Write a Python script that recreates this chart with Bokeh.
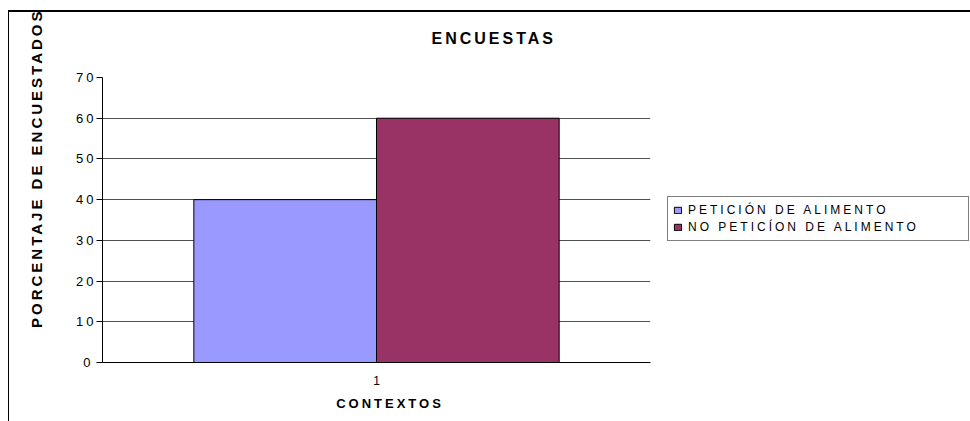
from bokeh.plotting import figure
from bokeh.models import (FactorRange, Range1d, Legend, FixedTicker, Title,
                          InlineStyleSheet, ColumnDataSource)
from bokeh.layouts import row
from bokeh.transform import dodge
from bokeh.embed import file_html
from bokeh.resources import INLINE

# ---- data ----
categories = ["1"]
series_names = ["PETICIÓN DE ALIMENTO", "NO PETICÍON DE ALIMENTO"]
peticion = [40]
no_peticion = [60]
series_colors = ["#9999FF", "#993366"]
y_ticks = [0, 10, 20, 30, 40, 50, 60, 70]
title_text = "ENCUESTAS"
x_title = "CONTEXTOS"
y_title = "PORCENTAJE DE ENCUESTADOS"

FONT = "Liberation Sans"

src = ColumnDataSource(dict(cat=categories, a=peticion, b=no_peticion))

# ---------------- main chart ----------------
p = figure(
    width=667, height=421,
    x_range=FactorRange(*categories, range_padding=0),
    y_range=Range1d(0, 70),
    output_backend="svg", toolbar_location=None,
    min_border_left=102, min_border_right=17,
    min_border_top=77, min_border_bottom=59,
)
p.outline_line_color = None
p.background_fill_color = "white"
p.border_fill_color = "white"

p.vbar(x=dodge("cat", -1/6, range=p.x_range), top="a", width=1/3, source=src,
       fill_color=series_colors[0], line_color="black", line_width=1)
p.vbar(x=dodge("cat", 1/6, range=p.x_range), top="b", width=1/3, source=src,
       fill_color=series_colors[1], line_color="black", line_width=1)

p.title = Title(text=title_text, align="left", offset=329, vertical_align="top",
                standoff=58, text_font=FONT, text_font_style="bold",
                text_font_size="16px", text_color="black")

p.add_layout(Title(text=y_title, align="right", offset=6, vertical_align="top",
                   standoff=54, text_font=FONT, text_font_style="bold",
                   text_font_size="15px", text_color="black"), "left")

p.yaxis.ticker = FixedTicker(ticks=y_ticks)
p.yaxis.major_tick_out = 6
p.yaxis.major_tick_in = 0
p.yaxis.minor_tick_line_color = None
p.yaxis.axis_line_color = "black"
p.yaxis.major_tick_line_color = "black"
p.yaxis.major_label_text_font = FONT
p.yaxis.major_label_text_font_size = "13px"
p.yaxis.major_label_text_color = "black"
p.yaxis.major_label_standoff = 6
p.ygrid.grid_line_color = "#505050"
p.ygrid.grid_line_width = 1

p.xaxis.axis_line_color = "black"
p.xaxis.major_tick_line_color = None
p.xaxis.major_tick_out = 0
p.xaxis.major_label_text_font = FONT
p.xaxis.major_label_text_font_size = "12px"
p.xaxis.major_label_text_color = "black"
p.xaxis.major_label_standoff = 13
p.xaxis.axis_label = x_title
p.xaxis.axis_label_text_font = FONT
p.xaxis.axis_label_text_font_style = "bold"
p.xaxis.axis_label_text_font_size = "13px"
p.xaxis.axis_label_text_color = "black"
p.xaxis.axis_label_standoff = 8
p.xgrid.grid_line_color = None

# ---------------- legend panel ----------------
lf = figure(
    width=303, height=421,
    x_range=FactorRange(*categories, range_padding=0),
    y_range=Range1d(-2, -1),
    x_axis_type=None, y_axis_type=None,
    output_backend="svg", toolbar_location=None,
    min_border=0,
)
lf.outline_line_color = None
lf.grid.grid_line_color = None
lf.background_fill_color = None
lf.border_fill_color = None
# legend-only renderers, kept outside the (invisible) frame of this panel
lr1 = lf.vbar(x=dodge("cat", 5, range=lf.x_range), top="a", width=1/3, source=src,
              fill_color=series_colors[0], line_color="black", line_width=1)
lr2 = lf.vbar(x=dodge("cat", 6, range=lf.x_range), top="b", width=1/3, source=src,
              fill_color=series_colors[1], line_color="black", line_width=1)

legend = Legend(items=[(series_names[0], [lr1]), (series_names[1], [lr2])],
                location=(0, 121), orientation="vertical")
legend.border_line_color = "black"
legend.border_line_width = 1
legend.background_fill_alpha = 1
legend.label_text_font = FONT
legend.label_text_font_size = "12px"
legend.label_text_color = "black"
legend.label_height = 16
legend.label_width = 275
legend.glyph_width = 9
legend.glyph_height = 8
legend.padding = 5
legend.spacing = 1
legend.label_standoff = 6
legend.margin = 0
lf.add_layout(legend)

frame_css = InlineStyleSheet(css="""
:host { position: relative; }
:host::after {
  content: ""; position: absolute; left: 8px; top: 10px; right: 0; bottom: 0;
  border-top: 2px solid #000; border-left: 1px solid #000;
  pointer-events: none; z-index: 5;
}
""")
root = row(p, lf, spacing=0)
root.styles = {"letter-spacing": "3px"}
root.stylesheets = [frame_css]

open("out.html", "w").write(file_html(root, INLINE))
